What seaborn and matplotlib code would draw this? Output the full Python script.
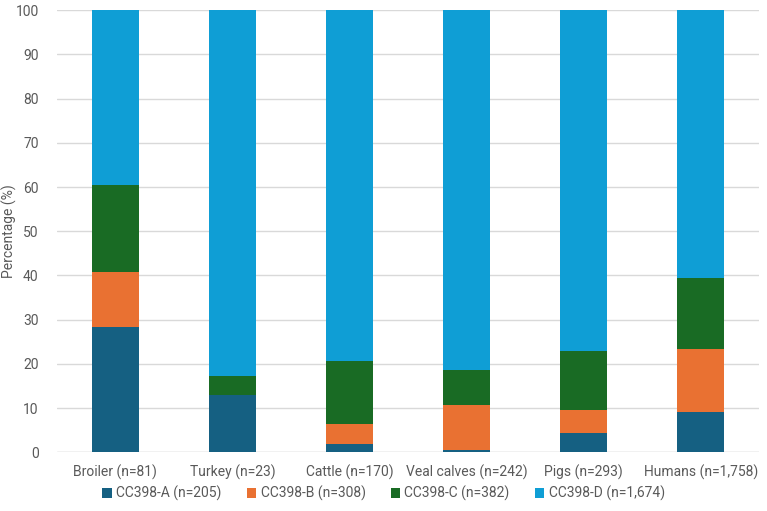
import matplotlib.pyplot as plt
import numpy as np
import pandas as pd
import seaborn as sns
from matplotlib.patches import Patch

# data (percentages)
hosts = ["Broiler (n=81)", "Turkey (n=23)", "Cattle (n=170)",
         "Veal calves (n=242)", "Pigs (n=293)", "Humans (n=1,758)"]
cc_a = [28.4, 13.0, 1.8, 0.4, 4.4, 9.2]
cc_b = [12.3, 0.0, 4.7, 10.3, 5.1, 14.2]
cc_c = [19.8, 4.3, 14.1, 7.9, 13.3, 16.1]
cc_d = [39.5, 82.7, 79.4, 81.4, 77.2, 60.5]
series = ["CC398-A (n=205)", "CC398-B (n=308)", "CC398-C (n=382)", "CC398-D (n=1,674)"]
colors = ["#156082", "#E97132", "#196B24", "#0F9ED5"]

df = pd.DataFrame({"host": hosts, "A": cc_a, "B": cc_b, "C": cc_c, "D": cc_d})
cum = df[["A", "B", "C", "D"]].cumsum(axis=1)
cum["host"] = df["host"]

sns.set_style("white")
plt.rcParams["font.family"] = ["Roboto", "DejaVu Sans"]
grey = "#595959"

fig, ax = plt.subplots(figsize=(7.67, 5.11), dpi=100)
fig.subplots_adjust(left=0.074, right=0.99, top=0.98, bottom=0.115)

# draw from the top of the stack down so each layer covers the one below
for col, c in zip(["D", "C", "B", "A"], colors[::-1]):
    sns.barplot(data=cum, x="host", y=col, color=c, width=0.4,
                saturation=1, linewidth=0, ax=ax, zorder=3)

ax.set_ylim(0, 100)
ax.set_yticks(np.arange(0, 101, 10))
ax.set_xlim(-0.5, len(hosts) - 0.5)
ax.yaxis.grid(True, color="#d9d9d9", linewidth=1, zorder=0)
ax.set_axisbelow(True)
sns.despine(ax=ax, left=True, top=True, right=True, bottom=True)
ax.axhline(0, color="#d9d9d9", linewidth=1, zorder=1)
ax.tick_params(axis="y", length=0, labelsize=10, labelcolor=grey, pad=13)
ax.tick_params(axis="x", length=0, labelsize=10, labelcolor=grey, pad=9)
ax.set_xlabel("")
ax.set_ylabel("Percentage (%)", fontsize=10, color=grey)
ax.yaxis.set_label_coords(-0.056, 0.5)

handles = [Patch(facecolor=c, edgecolor="none") for c in colors]
fig.legend(handles, series, loc="lower center", ncol=4, frameon=False,
           fontsize=10, labelcolor=grey, handlelength=0.7, handleheight=0.7,
           handletextpad=0.3, columnspacing=1.8, bbox_to_anchor=(0.5, -0.005))

fig.savefig("out.png", dpi=100)
